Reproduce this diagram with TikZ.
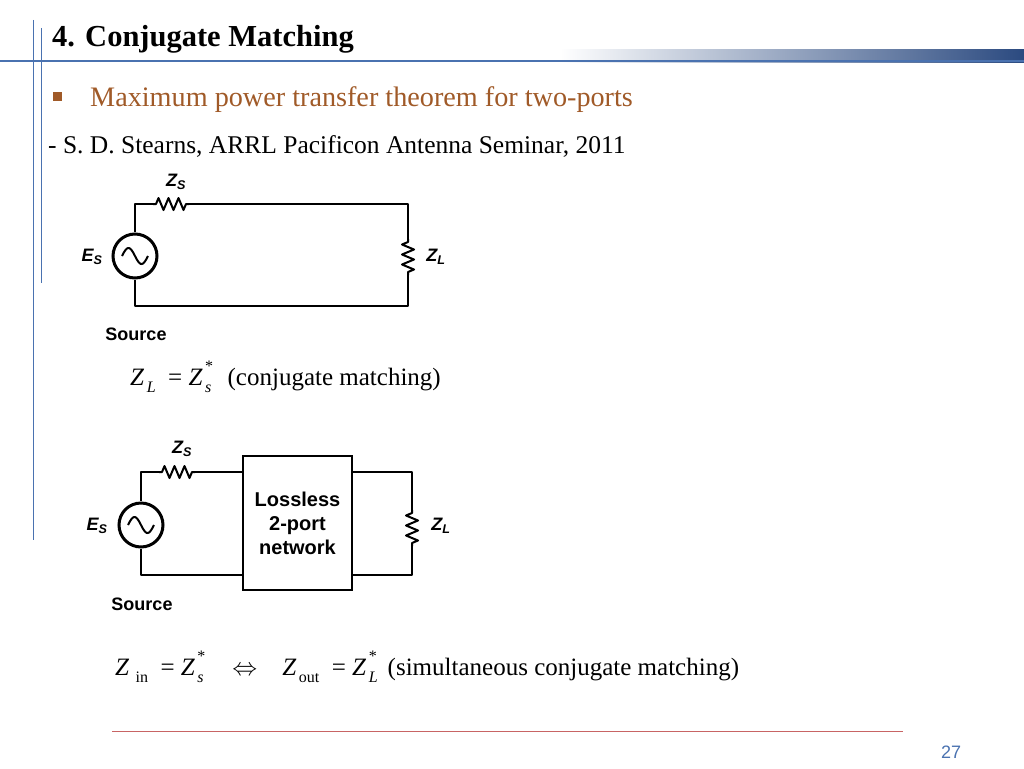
\documentclass[tikz,border=0pt]{standalone}
\usepackage{fontspec}
\setmainfont{Liberation Serif}
\newfontfamily\arial{Liberation Sans}
\usetikzlibrary{calc}
\definecolor{brn}{HTML}{A05A28}
\definecolor{bl}{HTML}{4A72B0}
\definecolor{navy}{HTML}{2B4A80}
\definecolor{redl}{HTML}{C86464}
\tikzset{wire/.style={line width=2pt,line join=round},
 lab/.style={font=\arial\bfseries\itshape\fontsize{18}{18}\selectfont},
 src/.style={font=\arial\bfseries\fontsize{18}{18}\selectfont},
 eq/.style={font=\fontsize{25}{25}\selectfont,anchor=base west}}
\newcommand{\hres}[2]{\draw[wire] (#1,#2) -- ++(3,0) -- ++(2.5,-6) -- ++(5,12) -- ++(5,-12) -- ++(5,12) -- ++(5,-12) -- ++(5,12) -- ++(2.5,-6) -- ++(3,0);}
\newcommand{\vres}[2]{\draw[wire] (#1,#2) -- ++(0,3) -- ++(-6,2.5) -- ++(12,5) -- ++(-12,5) -- ++(12,5) -- ++(-12,5) -- ++(12,5) -- ++(-6,2.5) -- ++(0,3);}
\newcommand{\srcc}[2]{\draw[line width=3pt] (#1,#2) circle (22);
 \draw[line width=2pt,domain=-13:13,samples=40] plot ({#1+\x},{#2+8*sin(\x*180/13)});}
\newcommand{\Z}{\textit{Z}}
\newcommand{\starsub}[1]{\kern0.1em\rlap{\raisebox{0.55em}{\fontsize{16}{16}\selectfont *}}\raisebox{-0.3em}{\fontsize{16}{16}\selectfont\textit{#1}}\kern0.15em}
\newcommand{\lowsub}[1]{\raisebox{-0.3em}{\fontsize{16}{16}\selectfont #1}}
\begin{document}
\begin{tikzpicture}[x=1pt,y=-1pt]
\useasboundingbox (0,0) rectangle (1024,768);
% header
\shade[left color=white,right color=navy] (560,50) rectangle (1024,62);
\draw[bl,line width=1.2pt] (0,61) -- (1024,61);
\draw[bl,line width=1pt] (33,20) -- (33,540);
\draw[bl,line width=1pt] (41,28) -- (41,283);
\node[anchor=base west,inner sep=0pt,font=\bfseries\fontsize{30.5}{30.5}\selectfont] (title) at (52,47) {4. Conjugate Matching};
\fill[brn] (53,92) rectangle (62,101);
\node[anchor=base west,inner sep=0pt,text=brn,font=\fontsize{28.2}{28.2}\selectfont] (bul) at (90,106) {Maximum power transfer theorem for two-ports};
\node[anchor=base west,inner sep=0pt,font=\fontsize{25.5}{25.5}\selectfont] (ref) at (48,153) {- S. D. Stearns, ARRL Pacificon Antenna Seminar, 2011};
% circuit 1
\coordinate (a1) at (135,232); \coordinate (b1) at (135,280);
\draw[wire] (a1) -- (135,204) -- (153,204);
\hres{153}{204}
\draw[wire] (189,204) -- (408,204) -- (408,239);
\vres{408}{239}
\draw[wire] (408,275) -- (408,306) -- (135,306) -- (b1);
\srcc{135}{256}
\node[lab] (zs1) at (176,182) {Z\textsubscript{S}};
\node[lab] (es1) at (92,257) {E\textsubscript{S}};
\node[lab] (zl1) at (436,257) {Z\textsubscript{L}};
\node[src] (s1) at (136,334) {Source};
\node[eq,inner sep=0pt] (eq1) at (130,385) {\Z\kern0.1em\lowsub{\textit{L}}\ \ =\ \Z\starsub{s}\ \ (conjugate matching)};
% circuit 2
\coordinate (a2) at (141,501); \coordinate (b2) at (141,549);
\node[draw,line width=2pt,minimum width=109pt,minimum height=134pt,inner sep=0pt,align=center,font=\arial\bfseries\fontsize{20}{24}\selectfont] (box) at (297.5,523) {Lossless\\2-port\\network};
\draw[wire] (a2) -- (141,472) -- (159,472);
\hres{159}{472}
\draw[wire] (195,472) -- (box.west |- 0,472);
\draw[wire] (box.west |- 0,575) -- (141,575) -- (b2);
\draw[wire] (box.east |- 0,472) -- (412,472) -- (412,510);
\vres{412}{510}
\draw[wire] (412,546) -- (412,575) -- (box.east |- 0,575);
\srcc{141}{525}
\node[lab] (zs2) at (182,449) {Z\textsubscript{S}};
\node[lab] (es2) at (97,526) {E\textsubscript{S}};
\node[lab] (zl2) at (441,526) {Z\textsubscript{L}};
\node[src] (s2) at (142,604) {Source};
\node[eq,inner sep=0pt] (eq2) at (115,675) {\Z\ \lowsub{in}\ \ =\ \Z\starsub{s}\quad$\Leftrightarrow$\quad\Z\kern0.1em\lowsub{out}\ \ =\ \Z\starsub{L}\ (simultaneous conjugate matching)};
% footer
\draw[redl,line width=0.8pt] (112,731) -- (903,731);
\node[text=bl,font=\arial\fontsize{18}{18}\selectfont] (pg) at (951,752) {27};
\end{tikzpicture}
\end{document}
